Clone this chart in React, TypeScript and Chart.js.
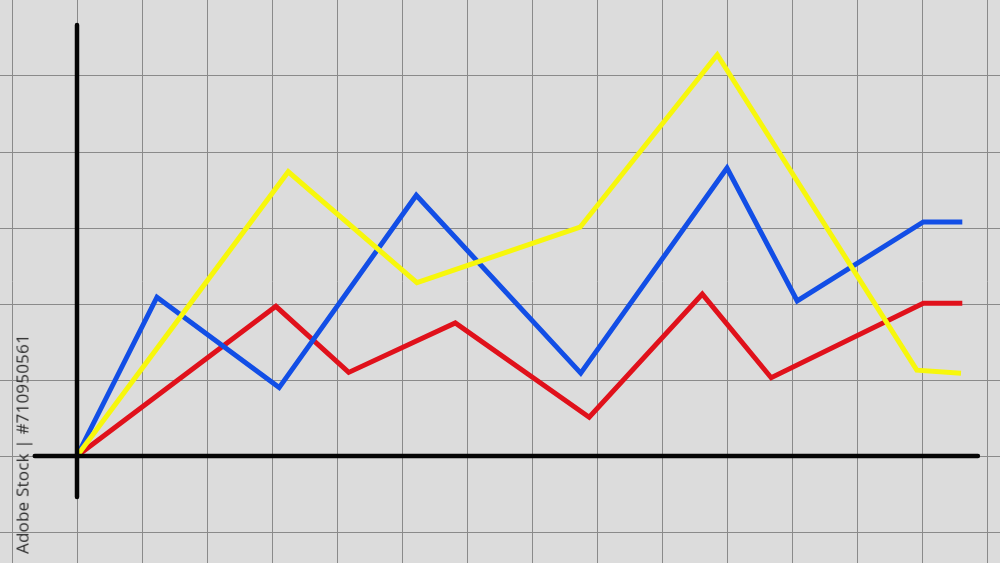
import React, { useEffect, useRef } from "react";
import { Chart, registerables } from "chart.js";

Chart.register(...registerables);

// Values in grid units (1 x-unit = one vertical grid cell, 1 y-unit = one horizontal grid cell)
const yellowX = [0, 3.25, 5.23, 7.74, 9.85, 12.92, 13.6];
const yellowY = [0, 3.74, 2.28, 3.01, 5.28, 1.13, 1.09];

const blueX = [0, 1.23, 3.11, 5.22, 7.75, 10.0, 11.08, 13.02, 13.62];
const blueY = [0, 2.09, 0.9, 3.43, 1.09, 3.79, 2.04, 3.08, 3.08];

const redX = [0, 3.06, 4.18, 5.82, 7.88, 9.62, 10.68, 13.02, 13.62];
const redY = [0, 1.97, 1.1, 1.75, 0.51, 2.13, 1.03, 2.01, 2.01];

const axisXRange = [-0.65, 13.86];
const axisYRange = [-0.54, 5.67];

const gridXTicks = [-1, 0, 1, 2, 3, 4, 5, 6, 7, 8, 9, 10, 11, 12, 13, 14];
const gridYTicks = [-1, 0, 1, 2, 3, 4, 5];

const toPoints = (xs: number[], ys: number[]) => xs.map((x, i) => ({ x, y: ys[i] }));

export default function App() {
  const ref = useRef<HTMLCanvasElement | null>(null);

  useEffect(() => {
    if (!ref.current) return;
    const lineStyle = {
      borderWidth: 5,
      pointRadius: 0,
      tension: 0,
      fill: false,
      borderJoinStyle: "miter" as const,
      borderCapStyle: "butt" as const,
    };
    const chart = new Chart(ref.current, {
      type: "line",
      data: {
        datasets: [
          {
            label: "x-axis",
            data: [
              { x: axisXRange[0], y: 0 },
              { x: axisXRange[1], y: 0 },
            ],
            borderColor: "#050505",
            borderWidth: 4.5,
            pointRadius: 0,
            borderCapStyle: "round",
          },
          {
            label: "y-axis",
            data: [
              { x: 0, y: axisYRange[0] },
              { x: 0, y: axisYRange[1] },
            ],
            borderColor: "#050505",
            borderWidth: 4.5,
            pointRadius: 0,
            borderCapStyle: "round",
          },
          { label: "Yellow", data: toPoints(yellowX, yellowY), borderColor: "#f7f70c", ...lineStyle },
          { label: "Blue", data: toPoints(blueX, blueY), borderColor: "#124ee6", ...lineStyle },
          { label: "Red", data: toPoints(redX, redY), borderColor: "#e0111b", ...lineStyle },
        ],
      },
      options: {
        animation: false,
        responsive: false,
        maintainAspectRatio: false,
        layout: { padding: 0 },
        plugins: { legend: { display: false }, tooltip: { enabled: false } },
        elements: { line: { tension: 0 } },
        scales: {
          x: {
            type: "linear",
            min: -77 / 65,
            max: (1000 - 77) / 65,
            border: { display: false },
            ticks: { display: false },
            grid: { color: "#8a8a8a", lineWidth: 1, drawTicks: false },
            afterBuildTicks: (scale: any) => {
              scale.ticks = gridXTicks.map((v) => ({ value: v }));
            },
            afterFit: (scale: any) => {
              scale.height = 0;
            },
          },
          y: {
            type: "linear",
            min: -(563 - 456) / 76,
            max: 456 / 76,
            border: { display: false },
            ticks: { display: false },
            grid: { color: "#8a8a8a", lineWidth: 1, drawTicks: false },
            afterBuildTicks: (scale: any) => {
              scale.ticks = gridYTicks.map((v) => ({ value: v }));
            },
            afterFit: (scale: any) => {
              scale.width = 0;
            },
          },
        },
      },
    });
    return () => chart.destroy();
  }, []);

  return (
    <div
      style={{
        position: "fixed",
        left: 0,
        top: 0,
        width: 1000,
        height: 563,
        background: "#dcdcdc",
        overflow: "hidden",
      }}
    >
      <canvas ref={ref} width={1000} height={563} style={{ display: "block", width: 1000, height: 563 }} />
      <div
        style={{
          position: "absolute",
          left: 22,
          top: 444,
          transform: "translate(-50%, -50%) rotate(-90deg)",
          whiteSpace: "nowrap",
          fontFamily: "'Open Sans', 'Noto Sans', sans-serif",
          fontSize: 17,
          color: "#2c2c2c",
          letterSpacing: 0.2,
        }}
      >
        Adobe Stock | #710950561
      </div>
    </div>
  );
}
